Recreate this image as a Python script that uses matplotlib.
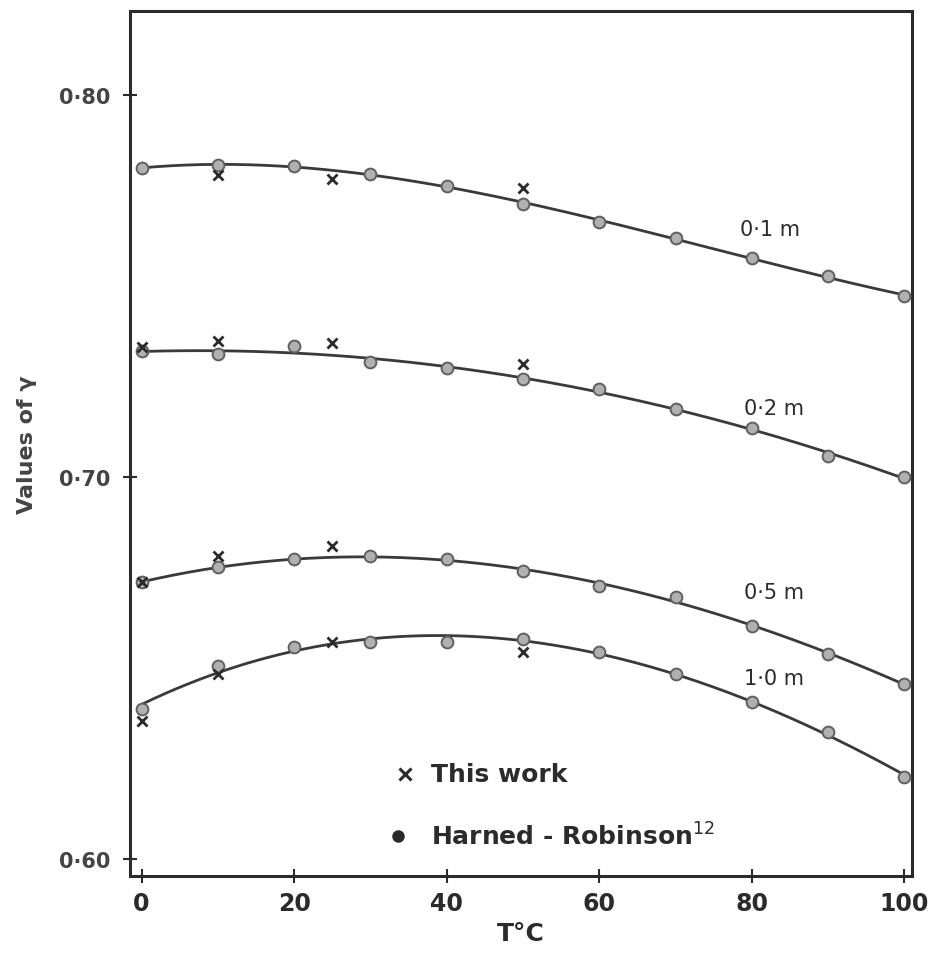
import numpy as np
import matplotlib
matplotlib.use("Agg")
import matplotlib.pyplot as plt

# Temperatures (°C)
T_hr = [0, 10, 20, 30, 40, 50, 60, 70, 80, 90, 100]
T_tw = [0, 10, 25, 50]

# Harned - Robinson values (circles)
hr_01 = [0.7809, 0.7817, 0.7814, 0.7793, 0.7762, 0.7715, 0.7668, 0.7626, 0.7573, 0.7526, 0.7474]
hr_02 = [0.7330, 0.7322, 0.7343, 0.7301, 0.7285, 0.7257, 0.7230, 0.7178, 0.7128, 0.7055, 0.7000]
hr_05 = [0.6725, 0.6764, 0.6785, 0.6793, 0.6785, 0.6754, 0.6715, 0.6686, 0.6610, 0.6537, 0.6458]
hr_10 = [0.6393, 0.6505, 0.6555, 0.6568, 0.6568, 0.6576, 0.6542, 0.6484, 0.6411, 0.6332, 0.6215]

# This work values (crosses)
tw_01 = [np.nan, 0.7791, 0.7780, 0.7757]
tw_02 = [0.7340, 0.7356, 0.7351, 0.7296]
tw_05 = [0.6725, 0.6793, 0.6819, np.nan]
tw_10 = [0.6361, 0.6484, 0.6568, 0.6542]

curve_labels = ["0·1 m", "0·2 m", "0·5 m", "1·0 m"]
label_pos = [(78.5, 0.7650), (79.0, 0.7180), (79.0, 0.6700), (79.0, 0.6475)]

x_ticks = [0, 20, 40, 60, 80, 100]
y_ticks = [0.60, 0.70, 0.80]
y_ticklabels = ["0·60", "0·70", "0·80"]

ink = "#2b2b2b"
fig = plt.figure(figsize=(9.29, 9.70), dpi=100)
ax = fig.add_axes([0.140, 0.0959, 0.8417, 0.8917])

series = [(hr_01, tw_01), (hr_02, tw_02), (hr_05, tw_05), (hr_10, tw_10)]
xs = np.linspace(0, 100, 200)
for (hr, tw), lab, (lx, ly) in zip(series, curve_labels, label_pos):
    coef = np.polyfit(T_hr, hr, 3)
    ax.plot(xs, np.polyval(coef, xs), color="#3a3a3a", lw=2.0, zorder=2)
    ax.plot(T_hr, hr, "o", ms=8.5, mfc="#b0b0b0", mec="#606060", mew=1.4, zorder=3)
    ax.plot(T_tw, tw, "x", ms=7, color=ink, mew=2.0, zorder=4)
    ax.text(lx, ly, lab, fontsize=15, color=ink, ha="left", va="center",
            family="DejaVu Sans")

ax.set_xlim(-1.5, 101.0)
ax.set_ylim(0.5956, 0.8220)
ax.set_xticks(x_ticks)
ax.set_xticklabels([str(v) for v in x_ticks], fontsize=17, fontweight="bold", color=ink)
ax.set_yticks(y_ticks)
ax.set_yticklabels(y_ticklabels, fontsize=15, fontweight="bold", color="#444444")
ax.tick_params(direction="inout", length=10, width=1.5, color=ink, pad=6)
ax.tick_params(axis="y", pad=9)
for s in ax.spines.values():
    s.set_linewidth(2.2)
    s.set_color(ink)

ax.set_xlabel("T°C", fontsize=18, fontweight="bold", color=ink, labelpad=4)
ax.set_ylabel("Values of γ", fontsize=16, fontweight="bold", color="#444444", labelpad=16)

# legend drawn as text
ax.plot([34.6], [0.6222], "x", ms=8, color=ink, mew=2.2)
ax.text(38.0, 0.6222, "This work", fontsize=18, fontweight="bold", color=ink,
        ha="left", va="center")
ax.plot([33.6], [0.6060], "o", ms=8, color=ink)
ax.text(38.0, 0.6060, "Harned - Robinson$^{12}$", fontsize=18, fontweight="bold",
        color=ink, ha="left", va="center")

fig.savefig("out.png", dpi=100)
